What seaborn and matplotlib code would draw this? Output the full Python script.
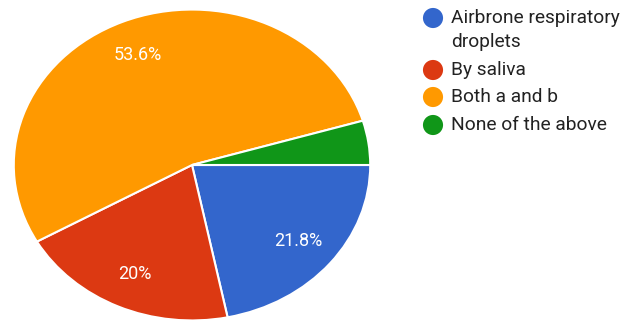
import matplotlib
matplotlib.use("Agg")
import matplotlib.pyplot as plt
import seaborn as sns

# dados
labels = ["Airbrone respiratory\ndroplets", "By saliva", "Both a and b", "None of the above"]
values = [21.8, 20.0, 53.6, 4.6]
colors = ["#3366CC", "#DC3912", "#FF9900", "#109618"]

sns.set_theme(style="white")
plt.rcParams['font.family'] = ['Roboto', 'DejaVu Sans']

W, H = 629, 323
fig = plt.figure(figsize=(W / 100, H / 100), dpi=100)
fig.patch.set_facecolor("white")

# pizza (esticada horizontalmente como na imagem)
ax = fig.add_axes([12 / W, 1 / H, 360 / W, 314 / H])
palette = sns.color_palette(colors)


def fmt(p):
    if p < 5:
        return ""
    return f"{p:.1f}%".replace(".0%", "%")


wedges, texts, autotexts = ax.pie(
    values, colors=palette, startangle=0, counterclock=False,
    autopct=fmt, pctdistance=0.77,
    wedgeprops=dict(edgecolor="white", linewidth=1.5),
    textprops=dict(color="white", fontsize=13),
)
ax.set_aspect("auto")
ax.set_xlim(-1.01, 1.01)
ax.set_ylim(-1.01, 1.01)
ax.axis("off")

# legenda manual
lax = fig.add_axes([0, 0, 1, 1])
lax.set_xlim(0, W)
lax.set_ylim(H, 0)
lax.axis("off")
ys = [18, 70, 97, 125]
for lab, col, y in zip(labels, colors, ys):
    lax.scatter([433], [y], s=210, color=col, edgecolors="none")
    lax.text(451, y - 9, lab, color="#222222", fontsize=13.8, va="top",
             ha="left", linespacing=1.45)

fig.savefig("out.png", dpi=100)
